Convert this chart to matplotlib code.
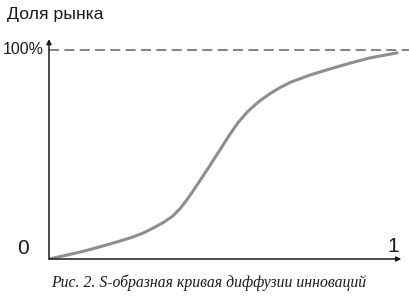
import matplotlib
matplotlib.use("Agg")
import matplotlib.pyplot as plt

# S-curve (share of time 0..1, market share 0..1)
time_share = [0.0, 0.052, 0.089, 0.126, 0.167, 0.204, 0.241, 0.270, 0.299, 0.328,
              0.356, 0.376, 0.397, 0.414, 0.434, 0.454, 0.471, 0.497, 0.520, 0.543,
              0.569, 0.592, 0.606, 0.635, 0.664, 0.693, 0.750, 0.799, 0.865, 0.922, 1.0]
market_share = [0.0, 0.019, 0.033, 0.049, 0.068, 0.086, 0.105, 0.124, 0.148, 0.174,
                0.206, 0.240, 0.285, 0.326, 0.376, 0.426, 0.470, 0.537, 0.597, 0.652,
                0.702, 0.737, 0.757, 0.791, 0.820, 0.845, 0.880, 0.905, 0.937, 0.962, 0.986]

y_title = "Доля рынка"
top_label = "100%"
zero_label = "0"
x_end_label = "1"
caption = "Рис. 2. S-образная кривая диффузии инноваций"

fig = plt.figure(figsize=(4.10, 2.96), dpi=100)
ax = fig.add_axes([0.1195, 0.125, 0.8805, 0.7466])
ax.set_xlim(0, 1.037)
ax.set_ylim(0, 1.057)
ax.axis("off")

# dashed 100% line
ax.plot([0, 1.037], [1, 1], color="#6e6e6e", lw=1.2, dashes=(6, 3.2))

# the curve
ax.plot(time_share, market_share, color="#8e8e8e", lw=2.2,
        solid_joinstyle="round", solid_capstyle="round")

# axes with arrows
arrow = dict(arrowstyle="-|>", color="#1a1a1a", lw=1.1, mutation_scale=7,
             shrinkA=0, shrinkB=0)
ax.annotate("", xy=(0, 1.052), xytext=(0, 0), arrowprops=arrow)
ax.annotate("", xy=(1.012, 0), xytext=(0, 0), arrowprops=arrow)

sans = "Liberation Sans"
fig.text(7 / 410, 1 - 15 / 296, y_title, family=sans, fontsize=12.6,
         color="#1a1a1a", va="center", ha="left")
fig.text(3 / 410, 1 - 50 / 296, top_label, family=sans, fontsize=11.5,
         color="#1a1a1a", va="center", ha="left")
fig.text(23 / 410, 1 - 248 / 296, zero_label, family=sans, fontsize=15,
         color="#1a1a1a", va="center", ha="center")
fig.text(393 / 410, 1 - 246 / 296, x_end_label, family=sans, fontsize=15,
         color="#1a1a1a", va="center", ha="center")
fig.text(209 / 410, 1 - 283 / 296, caption, family="Liberation Serif",
         style="italic", fontsize=11.3, color="#1a1a1a", va="center", ha="center")

fig.savefig("out.png", dpi=100)
